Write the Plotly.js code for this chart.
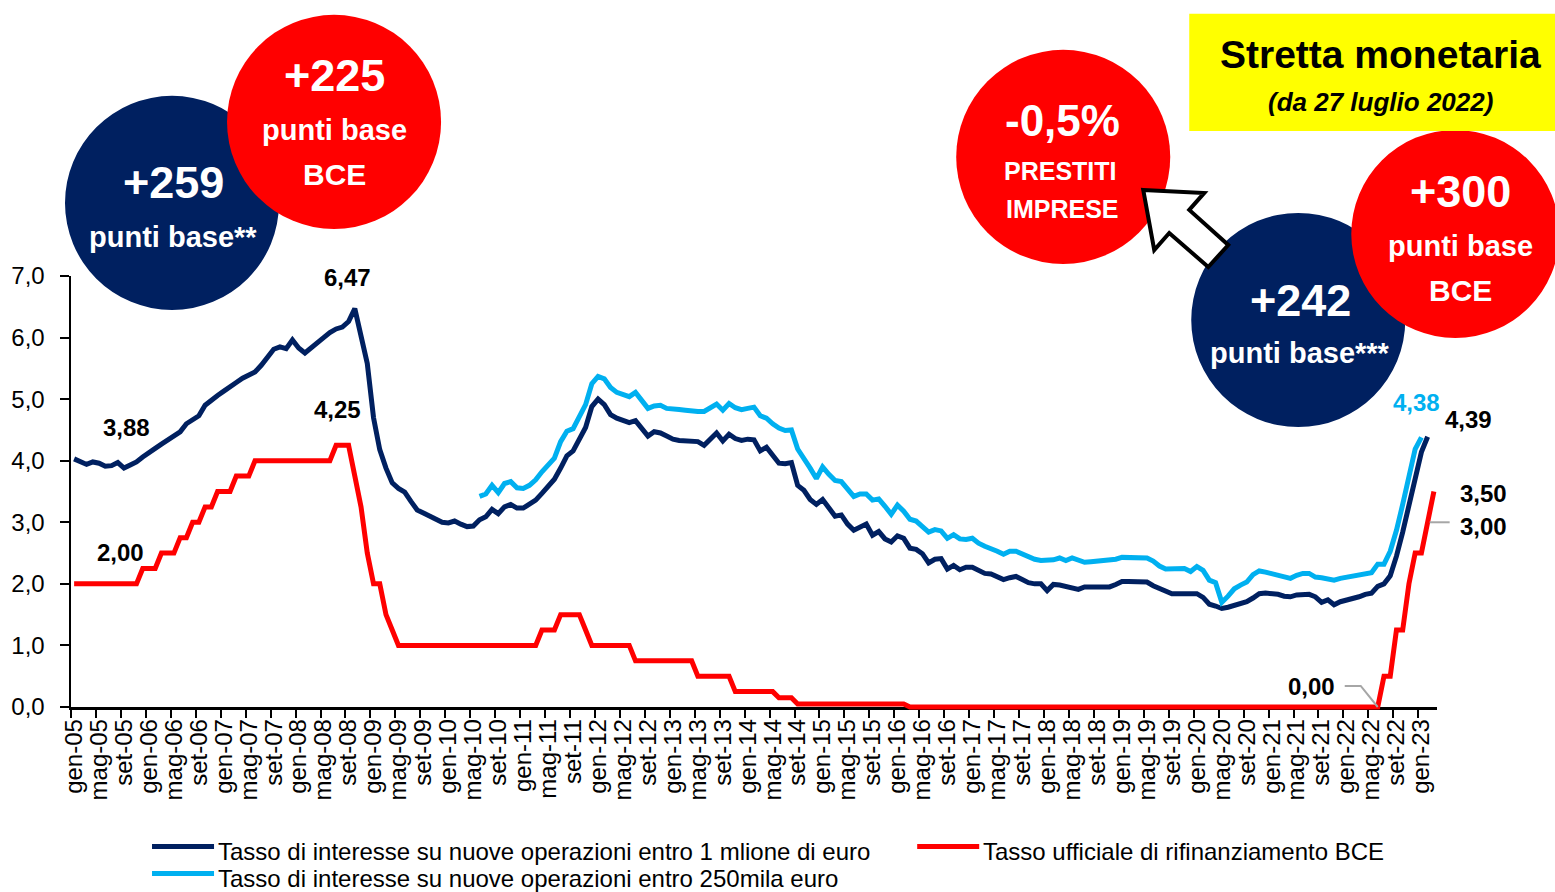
<!DOCTYPE html>
<html>
<head>
<meta charset="utf-8">
<script src="https://cdn.plot.ly/plotly-3.0.1.min.js"></script>
<style>
  html, body { margin: 0; padding: 0; background: #ffffff; }
  #chart { width: 1555px; height: 892px; }
</style>
</head>
<body>
<div id="chart"></div>
<script>
// ---------- categories (months gen-05 .. mar-23) ----------
const monthNames = ['gen','feb','mar','apr','mag','giu','lug','ago','set','ott','nov','dic'];
const years = [2005,2006,2007,2008,2009,2010,2011,2012,2013,2014,2015,2016,2017,2018,2019,2020,2021,2022,2023];
const monthsInLastYear = 3;
const categories = [];
years.forEach((y, k) => {
  const n = (k === years.length - 1) ? monthsInLastYear : 12;
  for (let m = 0; m < n; m++) categories.push(monthNames[m] + '-' + String(y % 100).padStart(2, '0'));
});

// ---------- series ----------
// Tasso di interesse su nuove operazioni entro 1 milione di euro: gen-05 .. feb-23
const rateUpTo1M = [
  4.03,3.99,3.94,3.98,3.96,3.91,3.92,3.97,3.88,3.93,3.98,4.06,   // 2005
  4.14,4.20,4.27,4.34,4.42,4.47,4.60,4.67,4.73,4.90,4.99,5.06,   // 2006
  5.13,5.19,5.27,5.34,5.38,5.44,5.55,5.68,5.81,5.85,5.82,5.96,   // 2007
  5.83,5.75,5.84,5.93,6.00,6.08,6.14,6.17,6.26,6.47,6.00,5.58,   // 2008
  4.70,4.18,3.88,3.64,3.55,3.49,3.34,3.20,3.15,3.10,3.06,3.00,   // 2009
  2.99,3.02,2.97,2.93,2.94,3.04,3.09,3.21,3.14,3.25,3.29,3.23,   // 2010
  3.23,3.29,3.36,3.47,3.58,3.70,3.88,4.08,4.16,4.36,4.54,4.88,   // 2011
  5.00,4.91,4.75,4.69,4.65,4.62,4.65,4.52,4.40,4.47,4.45,4.40,   // 2012
  4.35,4.33,4.33,4.33,4.31,4.25,4.36,4.45,4.32,4.43,4.36,4.33,   // 2013
  4.35,4.34,4.16,4.22,4.09,3.96,3.95,3.97,3.60,3.52,3.37,3.29,   // 2014
  3.37,3.25,3.10,3.12,2.97,2.87,2.93,2.97,2.79,2.85,2.73,2.68,   // 2015
  2.78,2.74,2.58,2.56,2.49,2.34,2.40,2.41,2.24,2.30,2.23,2.27,   // 2016
  2.27,2.21,2.17,2.16,2.12,2.07,2.10,2.12,2.07,2.02,2.00,2.00,   // 2017
  1.89,1.99,1.98,1.96,1.93,1.91,1.95,1.95,1.95,1.95,1.95,1.99,   // 2018
  2.04,2.04,2.04,2.04,2.03,1.97,1.93,1.88,1.84,1.84,1.84,1.84,   // 2019
  1.84,1.78,1.67,1.64,1.60,1.62,1.65,1.67,1.71,1.77,1.84,1.85,   // 2020
  1.85,1.83,1.80,1.79,1.82,1.83,1.83,1.79,1.70,1.74,1.66,1.71,   // 2021
  1.73,1.77,1.79,1.83,1.85,1.96,2.00,2.13,2.45,2.84,3.28,3.76,   // 2022
  4.14,4.39                                                     // 2023
];

// Tasso di interesse su nuove operazioni entro 250mila euro: giu-10 .. gen-23
const rateUpTo250kStart = 'giu-10';
const rateUpTo250k = [
  3.42,3.46,3.60,3.48,3.63,3.66,3.56,                           // 2010 (giu-dic)
  3.55,3.60,3.69,3.82,3.94,4.04,4.31,4.48,4.52,4.71,4.91,5.25,   // 2011
  5.37,5.33,5.19,5.11,5.07,5.04,5.11,4.98,4.85,4.89,4.90,4.85,   // 2012
  4.83,4.83,4.82,4.80,4.80,4.80,4.86,4.92,4.82,4.93,4.86,4.83,   // 2013
  4.85,4.87,4.73,4.69,4.60,4.53,4.49,4.50,4.19,4.05,3.88,3.71,   // 2014
  3.90,3.78,3.68,3.66,3.53,3.42,3.46,3.46,3.36,3.38,3.26,3.13,   // 2015
  3.28,3.18,3.05,3.02,2.93,2.84,2.88,2.86,2.74,2.80,2.73,2.72,   // 2016
  2.74,2.66,2.61,2.58,2.53,2.48,2.53,2.53,2.48,2.44,2.40,2.38,   // 2017
  2.38,2.39,2.42,2.38,2.42,2.39,2.35,2.36,2.37,2.37,2.37,2.40,   // 2018
  2.43,2.43,2.43,2.43,2.42,2.37,2.29,2.24,2.24,2.25,2.25,2.20,   // 2019
  2.28,2.22,2.06,2.02,1.70,1.80,1.92,1.98,2.03,2.15,2.21,2.19,   // 2020
  2.17,2.14,2.12,2.09,2.14,2.17,2.17,2.11,2.10,2.09,2.06,2.09,   // 2021
  2.11,2.14,2.16,2.17,2.18,2.32,2.32,2.53,2.87,3.29,3.77,4.19,   // 2022
  4.38                                                          // 2023
];

// Tasso ufficiale di rifinanziamento BCE: gen-05 .. mar-23
const ecbRate = [
  2,2,2,2,2,2,2,2,2,2,2,2.25,                                   // 2005
  2.25,2.25,2.5,2.5,2.5,2.75,2.75,3,3,3.25,3.25,3.5,             // 2006
  3.5,3.5,3.75,3.75,3.75,4,4,4,4,4,4,4,                         // 2007
  4,4,4,4,4,4,4.25,4.25,4.25,3.75,3.25,2.5,                     // 2008
  2,2,1.5,1.25,1,1,1,1,1,1,1,1,                                 // 2009
  1,1,1,1,1,1,1,1,1,1,1,1,                                      // 2010
  1,1,1,1.25,1.25,1.25,1.5,1.5,1.5,1.5,1.25,1,                  // 2011
  1,1,1,1,1,1,0.75,0.75,0.75,0.75,0.75,0.75,                    // 2012
  0.75,0.75,0.75,0.75,0.5,0.5,0.5,0.5,0.5,0.5,0.25,0.25,        // 2013
  0.25,0.25,0.25,0.25,0.25,0.15,0.15,0.15,0.05,0.05,0.05,0.05,  // 2014
  0.05,0.05,0.05,0.05,0.05,0.05,0.05,0.05,0.05,0.05,0.05,0.05,  // 2015
  0.05,0.05,0,0,0,0,0,0,0,0,0,0,                                // 2016
  0,0,0,0,0,0,0,0,0,0,0,0,                                      // 2017
  0,0,0,0,0,0,0,0,0,0,0,0,                                      // 2018
  0,0,0,0,0,0,0,0,0,0,0,0,                                      // 2019
  0,0,0,0,0,0,0,0,0,0,0,0,                                      // 2020
  0,0,0,0,0,0,0,0,0,0,0,0,                                      // 2021
  0,0,0,0,0,0,0.5,0.5,1.25,1.25,2,2.5,                          // 2022
  2.5,3,3.5                                                     // 2023
];

const seriesNames = [
  'Tasso di interesse su nuove operazioni entro 1 mlione di euro',
  'Tasso ufficiale di rifinanziamento BCE',
  'Tasso di interesse su nuove operazioni entro 250mila euro'
];
const colors = { navy: '#002060', red: '#FF0000', light: '#00B0F0', yellow: '#FFFF00', grey: '#A6A6A6' };

// ---------- geometry helpers (plot area in page pixels) ----------
const W = 1555, H = 892;
const PL = 71, PR = 1436.7, PT = 276, PB = 706.7;
const px = X => (X - PL) / (PR - PL);
const py = Y => (PB - Y) / (PB - PT);
const catX = i => PL + (i + 0.5) * (PR - PL) / categories.length;
const valY = v => PB - v * (PB - PT) / 7;
const fmt = v => v.toFixed(2).replace('.', ',');

const lbStart = categories.indexOf(rateUpTo250kStart);
const x1M = categories.slice(0, rateUpTo1M.length);
const x250 = categories.slice(lbStart, lbStart + rateUpTo250k.length);

const traces = [
  { x: x1M, y: rateUpTo1M, name: seriesNames[0], type: 'scatter', mode: 'lines',
    line: { color: colors.navy, width: 5 }, hoverinfo: 'x+y' },
  { x: categories, y: ecbRate, name: seriesNames[1], type: 'scatter', mode: 'lines',
    line: { color: colors.red, width: 5 }, hoverinfo: 'x+y' },
  { x: x250, y: rateUpTo250k, name: seriesNames[2], type: 'scatter', mode: 'lines',
    line: { color: colors.light, width: 5 }, hoverinfo: 'x+y' }
];

const FONT = 'Liberation Sans, Arial, sans-serif';

// ---------- data labels ----------
const iLast1M = rateUpTo1M.length - 1;
const iLast250 = lbStart + rateUpTo250k.length - 1;
const iLastEcb = ecbRate.length - 1;
const iPeak = rateUpTo1M.indexOf(Math.max(...rateUpTo1M.slice(0, 60)));
const iMin05 = 8;
const iZeroEnd = 209;
function dataLabel(i, v, dx, dy, color) {
  return { xref: 'x', yref: 'y', x: categories[i], y: v, xshift: dx, yshift: dy,
    text: '<b>' + fmt(v) + '</b>', showarrow: false, xanchor: 'center', yanchor: 'middle',
    font: { family: FONT, size: 24, color: color || '#000' } };
}
const annotations = [
  dataLabel(iPeak, rateUpTo1M[iPeak], -7, 31),
  dataLabel(iMin05, rateUpTo1M[iMin05], 2, 41),
  dataLabel(43, ecbRate[43], -5, 36),
  dataLabel(7, ecbRate[7], 3, 31),
  dataLabel(iLast250, rateUpTo250k[rateUpTo250k.length - 1], -5, 35, colors.light),
  dataLabel(iLast1M, rateUpTo1M[iLast1M], 41, 17),
  dataLabel(iLastEcb, ecbRate[iLastEcb], 50, -2),
  dataLabel(iLastEcb - 1, ecbRate[iLastEcb - 1], 56, -4),
  dataLabel(iZeroEnd, ecbRate[iZeroEnd], -66, 21)
];

// ---------- bubbles ----------
function txt(X, Y, text, size, color, extra) {
  return Object.assign({ xref: 'paper', yref: 'paper', x: px(X), y: py(Y), text: text, showarrow: false,
    xanchor: 'center', yanchor: 'middle', font: { family: FONT, size: size, color: color } }, extra || {});
}
function circle(cx, cy, r, color) {
  return { type: 'circle', xref: 'paper', yref: 'paper', layer: 'above',
    x0: px(cx - r), x1: px(cx + r), y0: py(cy + r), y1: py(cy - r),
    fillcolor: color, line: { width: 0 } };
}
annotations.push(
  txt(173, 183, '<b>+259</b>', 45, '#fff'),
  txt(173, 237, '<b>punti base**</b>', 29, '#fff'),
  txt(334, 76, '<b>+225</b>', 45, '#fff'),
  txt(334, 130, '<b>punti base</b>', 29, '#fff'),
  txt(334, 175, '<b>BCE</b>', 30, '#fff'),
  txt(1062, 121, '<b>-0,5%</b>', 44, '#fff'),
  txt(1060, 171, '<b>PRESTITI</b>', 25, '#fff'),
  txt(1062, 209, '<b>IMPRESE</b>', 25, '#fff'),
  txt(1300, 300, '<b>+242</b>', 45, '#fff'),
  txt(1300, 353, '<b>punti base***</b>', 29, '#fff'),
  txt(1460, 192, '<b>+300</b>', 45, '#fff'),
  txt(1460, 246, '<b>punti base</b>', 29, '#fff'),
  txt(1460, 290, '<b>BCE</b>', 30, '#fff'),
  txt(1380, 55, '<b>Stretta monetaria</b>', 39, '#000'),
  txt(1380, 102, '<b><i>(da 27 luglio 2022)</i></b>', 26, '#000')
);

// ---------- legend (drawn manually to match the reference layout) ----------
const legendItems = [
  { color: colors.navy, name: seriesNames[0], x: 152, y: 849 },
  { color: colors.red, name: seriesNames[1], x: 917, y: 849 },
  { color: colors.light, name: seriesNames[2], x: 152, y: 876 }
];
const shapes = [
  circle(172, 203, 107, colors.navy),
  circle(334, 122, 107, colors.red),
  circle(1063, 157, 107, colors.red),
  circle(1298, 320, 107, colors.navy),
  circle(1455, 234, 104, colors.red),
  { type: 'rect', xref: 'paper', yref: 'paper', layer: 'above',
    x0: px(1189), x1: px(1556), y0: py(131), y1: py(14), fillcolor: colors.yellow, line: { width: 0 } }
];
// outlined arrow pointing to the "-0,5%" bubble
const arrowPts = [[1143,190],[1204,193],[1189,210],[1228,245],[1208,267],[1169,233],[1154,250]];
shapes.push({ type: 'path', xref: 'paper', yref: 'paper', layer: 'above',
  path: 'M' + arrowPts.map(p => px(p[0]) + ',' + py(p[1])).join('L') + 'Z',
  fillcolor: '#ffffff', line: { color: '#000', width: 4 } });
// leader lines for "0,00" and "3,00"
const zx = catX(iZeroEnd), zy = valY(ecbRate[iZeroEnd]);
shapes.push({ type: 'path', xref: 'paper', yref: 'paper', layer: 'above',
  path: 'M' + px(zx - 33) + ',' + py(zy - 21) + 'L' + px(zx - 17) + ',' + py(zy - 21) + 'L' + px(zx) + ',' + py(zy),
  line: { color: colors.grey, width: 2 } });
const tx = catX(iLastEcb - 1), ty = valY(ecbRate[iLastEcb - 1]);
shapes.push({ type: 'path', xref: 'paper', yref: 'paper', layer: 'above',
  path: 'M' + px(tx + 2) + ',' + py(ty) + 'L' + px(tx + 22) + ',' + py(ty),
  line: { color: colors.grey, width: 2 } });
legendItems.forEach(it => {
  shapes.push({ type: 'line', xref: 'paper', yref: 'paper', layer: 'above',
    x0: px(it.x), x1: px(it.x + 62), y0: py(it.y - 3), y1: py(it.y - 3),
    line: { color: it.color, width: 5 } });
  annotations.push({ xref: 'paper', yref: 'paper', x: px(it.x + 64), y: py(it.y + 2), text: it.name,
    showarrow: false, xanchor: 'left', yanchor: 'middle', font: { family: FONT, size: 24, color: '#000' } });
});

const layout = {
  width: W, height: H,
  margin: { l: PL, r: W - PR, t: PT, b: H - PB, pad: 0 },
  paper_bgcolor: '#ffffff', plot_bgcolor: '#ffffff',
  separators: ',.',
  showlegend: false,
  font: { family: FONT, color: '#000', size: 24 },
  xaxis: {
    type: 'category', range: [-0.5, categories.length - 0.5],
    tickmode: 'linear', tick0: 0, dtick: 4, tickson: 'boundaries',
    ticks: 'outside', ticklen: 8, tickwidth: 2, tickcolor: '#000',
    showline: true, linecolor: '#000', linewidth: 2.5, layer: 'below traces',
    tickangle: -90, tickfont: { family: FONT, size: 24, color: '#000' },
    showgrid: false, zeroline: false, fixedrange: true
  },
  yaxis: {
    range: [0, 7], tick0: 0, dtick: 1, tickformat: '.1f',
    ticks: 'outside', ticklen: 9, tickwidth: 2, tickcolor: '#000',
    showline: true, linecolor: '#000', linewidth: 2.5, layer: 'below traces',
    ticklabelstandoff: 10,
    tickfont: { family: FONT, size: 24, color: '#000' },
    showgrid: false, zeroline: false, fixedrange: true
  },
  shapes: shapes,
  annotations: annotations
};

Plotly.newPlot('chart', traces, layout, { displayModeBar: false, staticPlot: true }).then(gd => {
  // let the thick lines at 0 show their full width over the axis
  gd.querySelectorAll('.cartesianlayer [clip-path]').forEach(el => el.removeAttribute('clip-path'));
});
</script>
</body>
</html>
